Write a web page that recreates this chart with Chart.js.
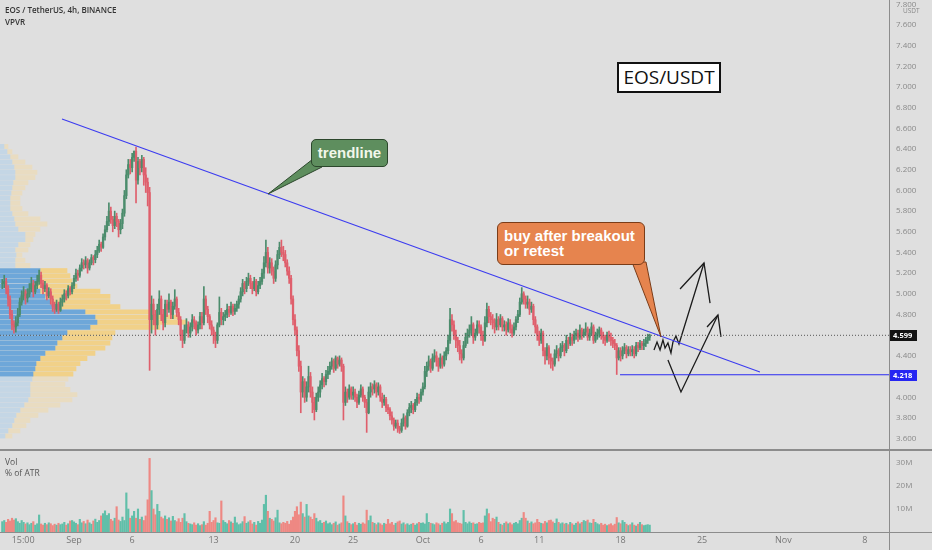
<!DOCTYPE html>
<html>
<head>
<title>EOS / TetherUS, 4h, BINANCE</title>
<script src="https://cdn.jsdelivr.net/npm/chart.js"></script>
<style>
  body { margin: 0; width: 932px; height: 550px; background: #dfdfdf; position: relative; overflow: hidden;
         font-family: "Open Sans", "Liberation Sans", sans-serif; }
  canvas { position: absolute; left: 0; }
  #vpCanvas, #priceCanvas { top: 0; }
  #volCanvas { top: 450px; }
  .sep { position: absolute; background: #8c8c8c; }
  .txt { position: absolute; white-space: nowrap; }
  #tails { position: absolute; left: 0; top: 0; }
  .callout { position: absolute; font-family: "Liberation Sans", Arial, sans-serif; font-weight: bold; color: #fff; box-sizing: border-box; }
</style>
</head>
<body>
<canvas id="vpCanvas" width="200" height="450"></canvas>
<canvas id="priceCanvas" width="932" height="450"></canvas>
<canvas id="volCanvas" width="932" height="100"></canvas>

<div class="sep" style="left:889px;top:0;width:1px;height:550px"></div>
<div class="sep" style="left:0;top:449px;width:932px;height:2px"></div>
<div class="sep" style="left:0;top:532px;width:932px;height:1px"></div>

<div class="txt" style="left:5px;top:4px;font-size:8px;font-weight:600;color:#333">EOS / TetherUS, 4h, BINANCE</div>
<div class="txt" style="left:5px;top:16px;font-size:8px;font-weight:600;color:#333">VPVR</div>
<div class="txt" style="left:5px;top:456px;font-size:8.5px;color:#555">Vol</div>
<div class="txt" style="left:5px;top:467px;font-size:8.5px;color:#555">% of ATR</div>
<div class="txt" style="left:903px;top:6px;font-size:6.5px;color:#888">USDT</div>

<svg id="tails" width="932" height="550">
  <polygon points="313,159 268,194 322,167" fill="#5e8e5e" stroke="#2c472c" stroke-width="1"/>
  <polygon points="632,262 661,337 646,262" fill="#e6844e" stroke="#7a3c18" stroke-width="1"/>
</svg>

<div class="callout" style="left:311px;top:139px;width:77px;height:28px;background:#5e8e5e;border:1px solid #2c472c;border-radius:5px;font-size:15px;line-height:26px;text-align:center;color:#f2f7ea">trendline</div>
<div class="callout" style="left:497px;top:222px;width:148px;height:43px;background:#e6844e;border:1px solid #7a3c18;border-radius:6px;font-size:15px;line-height:15px;padding:5px 0 0 6px">buy after breakout<br>or retest</div>
<div class="txt" style="left:617px;top:62px;width:104px;height:31px;box-sizing:border-box;background:#fff;border:2px solid #111;font-family:'Open Sans',sans-serif;font-size:19px;line-height:27px;text-align:center;color:#111">EOS/USDT</div>

<script>
// time axis: days since Sep 1 00:00, first 4h bar Aug 25 20:00
const firstBarDay = -6 - 1 / 6;
const xMin = -6.363, xMax = 70.077;
const yMin = 3.4897, yMax = 7.8418;

// 4h bars, prices in cents (one row per day)
const closes = [
  510,
  512,505,495,480,470,468, 472,480,492,498,502,496, 500,505,510,502,508,512,
  518,510,505,508,498,502, 495,488,485,490,484,492, 495,500,498,505,502,508,
  515,520,518,525,530,528, 532,525,530,535,533,538, 542,548,545,555,562,570,
  580,572,566,575,570,562, 568,578,595,615,625,622, 632,638,610,628,622,630,
  615,608,598,475,490,480, 470,485,495,480,472,490, 485,492,480,488,495,482,
  475,460,455,465,470,462, 468,475,472,465,470,478, 472,495,485,478,470,465,
  460,455,470,482,475,478, 480,485,482,488,483,486, 490,495,502,510,505,512,
  515,510,505,512,502,508, 512,520,530,540,525,530, 522,515,528,538,545,540,
  538,530,522,515,495,475, 465,445,430,405,415,400, 410,420,405,395,388,400,
  405,412,418,415,422,425, 430,435,428,438,432,436, 430,395,405,400,408,402,
  405,400,395,402,408,400, 395,385,405,410,408,412, 405,410,400,395,398,390,
  388,382,378,372,375,370, 368,375,380,372,385,390, 392,388,395,400,398,405,
  410,425,430,435,428,438, 440,435,430,438,432,440, 445,455,475,470,460,455,
  450,442,438,450,458,462, 465,470,458,462,470,468, 460,455,472,485,478,475,
  472,468,475,470,476,468, 470,465,472,466,462,468, 475,480,492,500,495,490,
  492,485,488,475,468,460, 455,462,445,440,448,438, 435,432,442,445,440,448,
  450,445,455,452,458,455, 460,462,458,465,460,463, 466,458,462,468,455,460,
  462,465,460,458,455,460, 458,455,452,450,438,445, 440,445,448,442,446,444,
  446,442,450,448,452,450, 452,455,458,460
];
const highs = [
  514,
  518,515,508,498,484,474, 478,486,496,503,507,504, 505,510,516,513,512,518,
  523,521,513,512,510,506, 505,498,492,494,492,496, 499,504,503,508,507,511,
  518,524,523,528,534,533, 536,534,533,538,537,542, 546,552,550,558,566,575,
  588,584,575,580,578,572, 572,582,600,620,630,630, 636,638,642,632,630,634,
  632,622,612,603,498,495, 484,490,503,498,485,494, 494,500,494,492,504,497,
  486,478,465,470,476,473, 472,480,478,474,473,482, 482,507,498,488,480,474,
  468,463,472,497,486,482, 484,490,488,492,490,490, 493,498,506,514,512,516,
  520,518,512,516,514,512, 516,524,536,552,545,535, 534,526,532,542,550,552,
  546,542,533,526,518,498, 480,468,450,435,420,418, 415,430,424,410,400,404,
  410,416,423,420,426,430, 434,438,437,440,439,440, 438,432,410,408,412,410,
  410,408,403,406,412,410, 402,398,410,414,413,416, 414,414,412,404,402,400,
  393,390,386,380,378,378, 372,379,384,382,388,394, 396,394,398,404,403,408,
  414,430,434,440,437,442, 446,444,438,442,440,444, 448,460,486,480,474,465,
  458,455,446,454,462,466, 470,478,472,466,474,474, 470,464,478,491,488,482,
  480,476,481,478,480,478, 474,473,476,475,470,472, 478,484,496,506,502,498,
  498,495,492,490,478,470, 464,466,464,448,452,450, 442,438,446,450,447,452,
  454,452,460,458,462,461, 464,466,465,470,467,466, 472,468,466,472,470,463,
  466,468,467,463,460,463, 464,462,458,456,452,448, 448,449,452,450,449,449,
  450,449,453,453,455,454, 456,458,461,461
];
const lows = [
  505,
  506,500,488,476,465,462, 463,469,478,489,494,490, 492,497,502,497,500,505,
  509,506,500,502,494,496, 490,483,481,483,481,483, 488,492,494,496,499,500,
  505,512,513,516,522,524, 525,520,523,528,528,530, 535,540,541,544,552,560,
  566,568,560,563,565,555, 558,563,575,592,612,616, 618,628,588,606,615,618,
  605,598,585,426,462,470, 460,466,480,474,465,468, 478,482,476,476,485,478,
  470,455,448,452,462,458, 458,464,466,460,462,466, 466,470,480,472,466,460,
  452,448,452,468,470,470, 474,477,478,480,479,480, 483,486,492,498,500,502,
  508,505,500,503,498,500, 505,509,515,526,520,520, 518,510,512,524,534,536,
  532,526,518,510,490,470, 460,440,425,385,400,395, 396,405,400,385,378,386,
  396,400,408,410,412,418, 422,427,424,426,428,430, 425,378,392,395,398,398,
  398,396,390,393,400,396, 390,366,384,400,402,404, 400,402,396,390,392,386,
  384,378,374,368,370,366, 365,366,372,369,371,382, 385,384,386,392,394,396,
  402,408,420,426,424,426, 434,430,425,428,428,430, 436,442,452,464,456,448,
  444,436,433,436,448,452, 458,460,452,455,460,462, 455,450,454,468,472,470,
  466,462,465,465,468,464, 464,460,463,462,458,460, 465,472,478,490,490,486,
  486,480,482,470,462,455, 450,452,440,432,436,432, 428,426,430,438,435,438,
  444,440,443,447,450,450, 452,456,454,456,456,458, 460,455,455,460,452,453,
  456,458,456,452,450,453, 454,450,448,446,422,436, 435,437,442,438,440,440,
  440,438,440,444,446,446, 446,449,452,455
];
// volume in millions
const volumes = [
  4.5,
  5.0,4.2,5.5,4.8,6.0,5.2, 5.8,4.5,3.8,5.0,4.2,3.5, 4.0,3.2,3.8,4.5,3.0,3.6,
  7.4,3.5,3.0,3.8,3.2,4.0, 3.6,2.8,3.4,3.0,3.8,3.2, 3.5,4.2,3.0,3.6,4.8,5.0,
  4.4,3.8,3.2,5.5,4.0,4.6, 3.6,5.2,4.0,3.4,4.8,5.6, 4.2,5.0,7.0,8.0,9.2,7.2,
  8.0,5.5,4.8,6.0,11.0,5.2, 4.6,6.5,5.0,17.0,10.0,6.0, 7.0,9.0,6.0,10.0,5.5,6.5,
  5.0,7.0,14.0,32.0,18.0,10.0, 7.5,12.0,9.0,6.5,5.8,7.0, 5.5,6.2,4.8,6.8,5.0,4.5,
  5.8,4.2,6.0,8.0,4.5,3.8, 3.5,3.2,4.0,3.0,3.6,2.8, 3.2,4.5,3.0,3.8,9.0,4.2,
  5.0,6.2,4.0,3.8,13.5,5.0, 4.2,3.6,5.0,4.4,3.8,6.5, 4.0,3.2,3.6,4.5,6.7,3.8,
  4.4,5.0,3.5,4.2,3.0,4.6, 3.8,5.2,12.0,16.0,9.0,6.0, 5.5,4.8,6.2,9.5,4.0,3.6,
  4.2,3.8,4.6,3.4,5.0,6.5, 9.0,11.0,7.5,13.0,8.0,6.5, 12.0,7.0,6.5,5.5,8.0,6.0,
  4.5,5.0,3.8,4.2,4.8,3.6, 4.0,3.2,3.8,4.4,3.0,3.5, 4.0,15.7,7.0,4.5,3.8,3.2,
  3.6,4.2,3.0,3.8,3.4,4.0, 3.5,9.5,5.0,7.0,4.2,3.8, 3.2,4.0,3.6,3.0,3.8,3.4,
  5.5,3.6,4.2,3.0,3.8,4.4, 4.8,3.5,4.0,3.2,3.6,3.0, 3.4,3.8,3.0,3.6,4.2,3.8,
  4.0,3.5,8.0,4.2,3.8,3.6, 3.2,4.0,3.6,3.0,3.8,4.4, 3.6,4.2,10.0,8.0,4.5,5.0,
  4.0,3.8,3.5,9.4,4.2,3.6, 4.4,3.8,4.0,3.4,3.6,4.2, 3.8,4.0,7.0,10.0,8.0,4.5,
  6.0,5.5,6.5,4.2,3.4,3.0, 3.8,4.4,3.6,4.0,3.2,3.8, 4.2,3.6,5.0,6.0,8.5,6.0,
  4.8,3.8,4.4,3.6,4.0,5.5, 4.2,3.8,3.6,4.6,4.0,5.0, 5.2,4.4,3.8,5.7,4.2,3.6,
  4.0,3.5,3.8,3.2,4.2,3.6, 3.0,3.8,4.4,3.6,4.2,5.0, 4.6,5.2,4.0,3.8,5.5,4.2,
  3.6,3.2,3.8,3.0,3.4,2.8, 3.2,3.6,2.8,3.4,6.3,4.0, 3.6,5.0,4.2,3.4,2.8,3.2,
  4.0,3.0,2.6,3.4,4.2,3.2, 2.8,3.0,3.2,3.0
];

// price axis ticks and date axis ticks
const priceTicks = [3.6,3.8,4.0,4.2,4.4,4.6,4.8,5.0,5.2,5.4,5.6,5.8,6.0,6.2,6.4,6.6,6.8,7.0,7.2,7.4,7.6,7.8];
const dateTickDays = [-4.375, 0, 5, 12, 19, 24, 30, 35, 40, 47, 54, 61, 68];
const dateTickLabels = ['15:00', 'Sep', '6', '13', '20', '25', 'Oct', '6', '11', '18', '25', 'Nov', '8'];
const volTicks = [10, 20, 30];

// drawn lines (day, price)
const trendX = [-1.03, 58.98], trendY = [6.69, 4.244];
const lastPrice = 4.599;
const supportPrice = 4.218, supportX = [46.95, xMax];
const arrowUpX = [49.87, 50.13, 50.39, 50.64, 50.82, 51.07, 51.33, 51.50, 51.76, 52.02, 54.17];
const arrowUpY = [4.457, 4.534, 4.457, 4.554, 4.476, 4.525, 4.428, 4.534, 4.592, 4.515, 5.298];
const headUpX = [52.11, 54.17, 54.69], headUpY = [5.047, 5.298, 4.911];
const arrowVX = [51.07, 52.19, 55.37], arrowVY = [4.360, 4.051, 4.795];
const headVX = [54.43, 55.37, 55.63], headVY = [4.679, 4.795, 4.583];

// volume profile (visible range), rows of 0.05 from 3.60
const vpStart = 3.625, vpStep = 0.05;
const vpUp = [5,8,12,14,16,20,24,28,30,30, 30,32,33,35,36,40,45,55,57,62, 67,90,97,95,85,60,50,45,40,35,
              38,40,40,15,15,16,15,18,25,25, 18,15,14,12,10,10,10,11,12,13, 15,15,14,12,10,7,4];
const vpDown = [7,12,14,16,22,28,36,44,47,40, 35,36,40,41,44,47,50,50,53,50, 48,70,90,85,65,60,60,65,60,42,
                34,30,27,15,10,6,13,12,8,10, 22,32,26,16,12,10,10,11,13,15, 20,22,18,13,8,5,4];
const valueArea = [4.20, 5.25];

const upColor = '#4b8c6c', downColor = '#df5f6c';
const volUp = '#60bfa9', volDown = '#ee8883';

// build bars
const bars = closes.map((c, i) => {
  const o = i ? closes[i - 1] : c;
  return {
    t: firstBarDay + i / 6,
    o: o / 100, c: c / 100,
    h: Math.max(highs[i], o, c) / 100,
    l: Math.min(lows[i], o, c) / 100
  };
});
const barColors = bars.map(b => b.c >= b.o ? upColor : downColor);
const volColors = bars.map(b => b.c >= b.o ? volUp : volDown);
const pts = (xs, ys) => xs.map((x, i) => ({ x: x, y: Array.isArray(ys) ? ys[i] : ys }));

const lineDs = (data, color, width, dash) => ({
  type: 'line', data: data, borderColor: color, borderWidth: width, borderDash: dash || [],
  pointRadius: 0, tension: 0, fill: false, order: 0
});

const font = { family: '"Open Sans", "Liberation Sans", sans-serif', size: 8 };
// no extra room above/below the plot for edge tick labels
const noPad = s => { s.paddingTop = 0; s.paddingBottom = 0; };

// price tags on the axis
const tagPlugin = {
  id: 'tags',
  afterDraw(chart) {
    const { ctx } = chart;
    const y = chart.scales.y;
    [[lastPrice, '#131313'], [supportPrice, '#2626f2']].forEach(([v, col]) => {
      const py = Math.round(y.getPixelForValue(v));
      ctx.save();
      ctx.fillStyle = col;
      ctx.fillRect(y.left + 1, py - 5, 27, 11);
      ctx.fillStyle = '#fff';
      ctx.font = 'bold 7.5px "Open Sans", sans-serif';
      ctx.textBaseline = 'middle';
      ctx.fillText(v.toFixed(3), y.left + 4, py + 0.5);
      ctx.restore();
    });
  }
};

Chart.defaults.animation = false;
Chart.defaults.plugins.legend.display = false;
Chart.defaults.plugins.tooltip.enabled = false;
Chart.defaults.events = [];

// volume profile overlay
new Chart(document.getElementById('vpCanvas'), {
  type: 'bar',
  data: {
    datasets: [
      { data: vpUp.map((v, k) => ({ x: v, y: vpStart + k * vpStep })),
        backgroundColor: vpUp.map((v, k) => { const p = vpStart + k * vpStep; return p >= valueArea[0] && p <= valueArea[1] ? '#6ea7d9' : '#c4d6e5'; }),
        barThickness: 4.2 },
      { data: vpDown.map((v, k) => ({ x: v, y: vpStart + k * vpStep })),
        backgroundColor: vpDown.map((v, k) => { const p = vpStart + k * vpStep; return p >= valueArea[0] && p <= valueArea[1] ? '#f1d189' : '#e9dcc1'; }),
        barThickness: 4.2 }
    ]
  },
  options: {
    responsive: false, indexAxis: 'y', layout: { padding: 0 },
    scales: {
      x: { type: 'linear', min: 0, max: 200, stacked: true, display: false },
      y: { type: 'linear', min: yMin, max: yMax, stacked: true, display: false, offset: false }
    }
  }
});

// price pane
new Chart(document.getElementById('priceCanvas'), {
  type: 'bar',
  data: {
    datasets: [
      lineDs(pts(trendX, trendY), '#3b3bf0', 1.1),
      lineDs(pts(supportX, supportPrice), '#2a2af2', 1.1),
      lineDs(pts([xMin, xMax], lastPrice), '#555', 1, [1, 2]),
      lineDs(pts(arrowUpX, arrowUpY), '#1b1b1b', 1.3),
      lineDs(pts(headUpX, headUpY), '#1b1b1b', 1.3),
      lineDs(pts(arrowVX, arrowVY), '#1b1b1b', 1.3),
      lineDs(pts(headVX, headVY), '#1b1b1b', 1.3),
      { data: bars.map(b => ({ x: b.t, y: [b.o, b.c] })), backgroundColor: barColors,
        barThickness: 1.6, grouped: false, order: 1 },
      { data: bars.map(b => ({ x: b.t, y: [b.l, b.h] })), backgroundColor: barColors,
        barThickness: 1, grouped: false, order: 2 }
    ]
  },
  options: {
    responsive: false, layout: { padding: 0 },
    scales: {
      x: { type: 'linear', min: xMin, max: xMax, offset: false, display: false },
      y: {
        position: 'right', min: yMin, max: yMax,
        grid: { display: false, drawTicks: false }, border: { display: false },
        afterFit: s => { s.width = 43; noPad(s); },
        afterBuildTicks: s => { s.ticks = priceTicks.map(v => ({ value: v })); },
        ticks: { color: '#8a8a8a', font: font, padding: 7, autoSkip: false, callback: v => v.toFixed(3) }
      }
    }
  },
  plugins: [tagPlugin]
});

// volume pane
new Chart(document.getElementById('volCanvas'), {
  type: 'bar',
  data: {
    datasets: [
      { data: bars.map((b, i) => ({ x: b.t, y: volumes[i] })), backgroundColor: volColors,
        barThickness: 1.5, grouped: false }
    ]
  },
  options: {
    responsive: false, layout: { padding: 0 },
    scales: {
      x: {
        type: 'linear', min: xMin, max: xMax, offset: false,
        grid: { display: false, drawTicks: false }, border: { display: false },
        afterFit: s => { s.height = 18; s.paddingLeft = 0; s.paddingRight = 0; },
        afterBuildTicks: s => { s.ticks = dateTickDays.map(v => ({ value: v })); },
        ticks: { color: '#777', font: { family: font.family, size: 9 }, padding: 3, maxRotation: 0, autoSkip: false,
                 callback: (v, i) => dateTickLabels[i] }
      },
      y: {
        position: 'right', min: 0, max: 35.65,
        grid: { display: false, drawTicks: false }, border: { display: false },
        afterFit: s => { s.width = 43; noPad(s); },
        afterBuildTicks: s => { s.ticks = volTicks.map(v => ({ value: v })); },
        ticks: { color: '#8a8a8a', font: font, padding: 7, autoSkip: false, callback: v => v + 'M' }
      }
    }
  }
});
</script>
</body>
</html>
